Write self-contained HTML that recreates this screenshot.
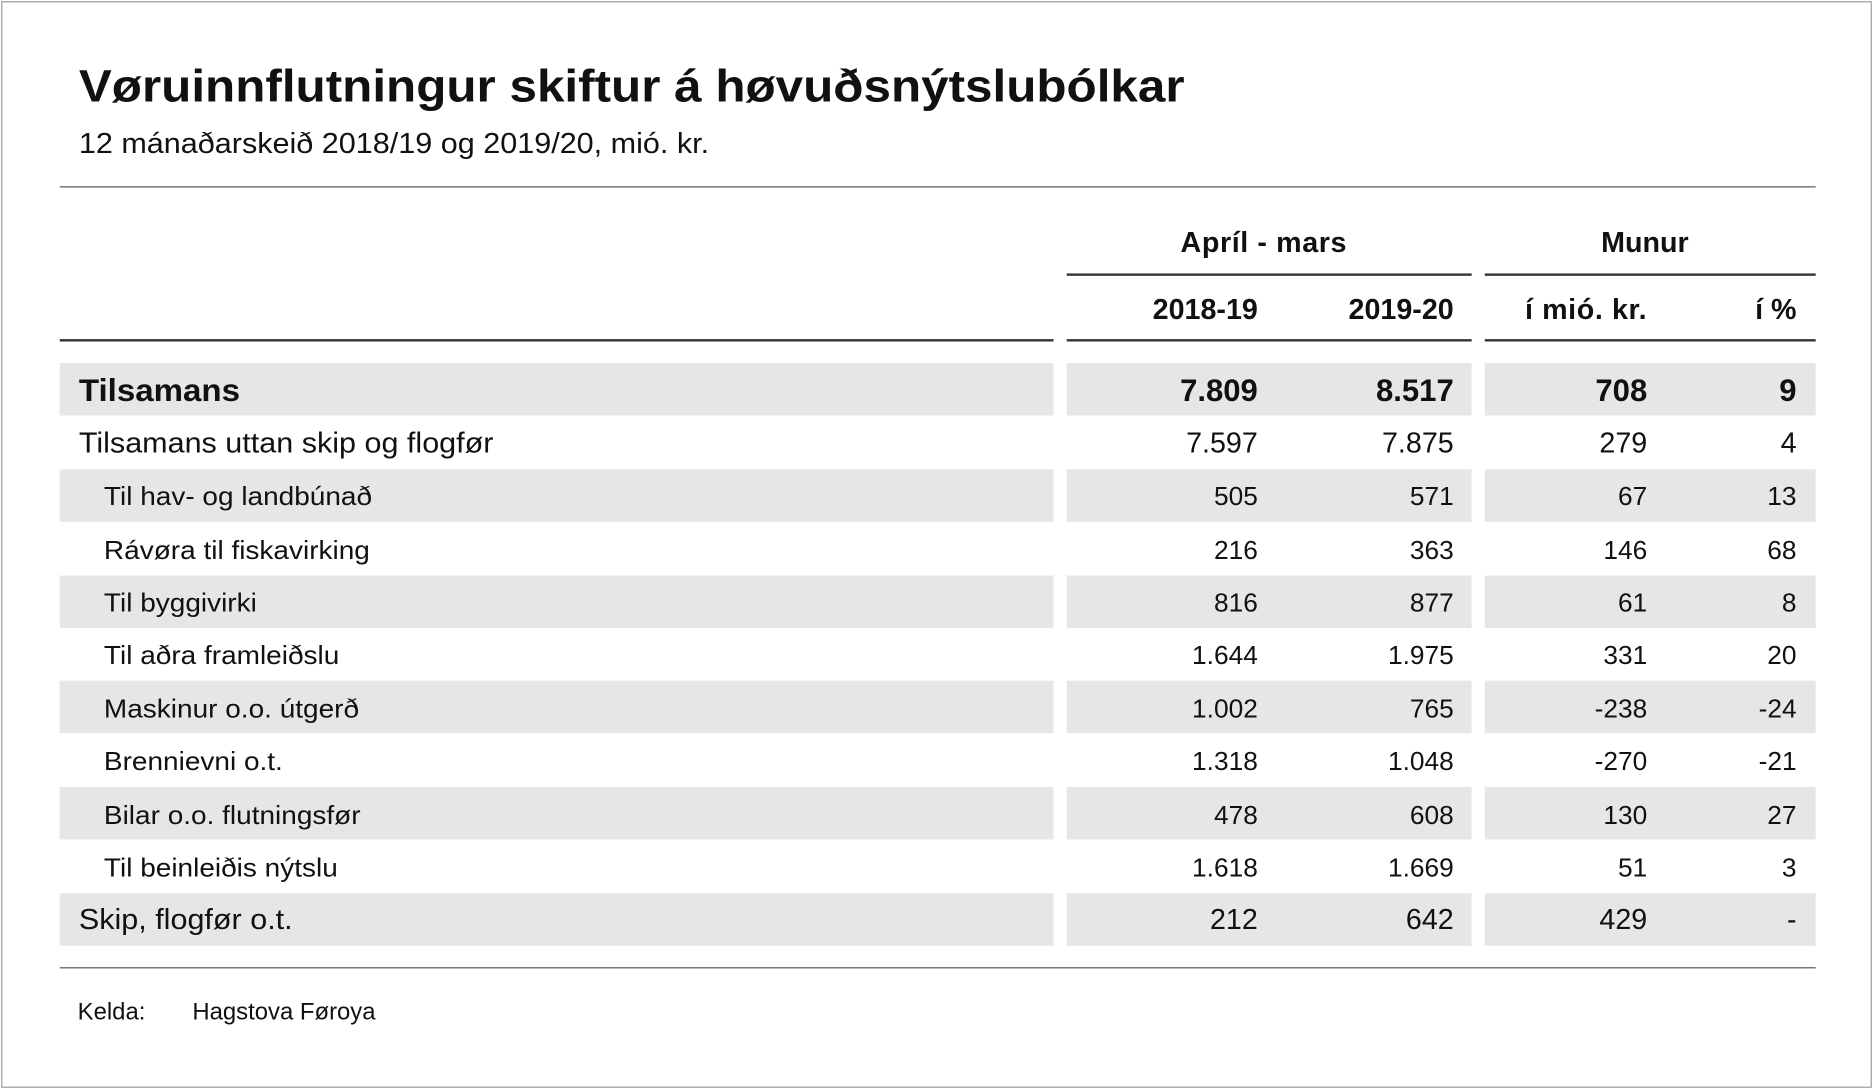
<!DOCTYPE html>
<html><head><meta charset="utf-8">
<style>
html,body{margin:0;padding:0;background:#fff;}
body{width:1873px;height:1089px;overflow:hidden;position:relative;}
#w{position:absolute;left:0;top:0;width:1568px;height:912px;transform:scale(1.19452,1.19408);transform-origin:0 0;font-family:"Liberation Sans",sans-serif;color:#111;}
.box{position:absolute;left:1px;top:1px;width:1564px;height:908px;border:1px solid #999;}
.a{position:absolute;white-space:nowrap;transform-origin:0 0;}
.r{position:absolute;white-space:nowrap;text-align:right;}
.ln{position:absolute;background:#333;}
.bg{position:absolute;background:#e6e6e6;}
</style></head><body><div id="w">
<div class="box"></div>
<div class="a" style="left:66px;top:52px;font-size:38px;font-weight:bold;transform:scaleX(1.088);">Vøruinnflutningur skiftur á høvuðsnýtslubólkar</div>
<div class="a" style="left:66px;top:107px;font-size:24px;transform:scaleX(1.066);">12 mánaðarskeið 2018/19 og 2019/20, mió. kr.</div>
<div class="ln" style="left:50px;top:156px;width:1470px;height:1px;background:#555"></div>
<div class="a" style="left:888px;width:340px;text-align:center;top:190px;font-size:24px;font-weight:bold;letter-spacing:0.5px;">Apríl - mars</div>
<div class="a" style="left:1243px;width:268px;text-align:center;top:190px;font-size:24px;font-weight:bold;">Munur</div>
<div class="ln" style="left:893px;top:229px;width:339px;height:2px"></div>
<div class="ln" style="left:1243px;top:229px;width:277px;height:2px"></div>
<div class="r" style="right:515px;top:246px;font-size:24px;font-weight:bold;">2018-19</div>
<div class="r" style="right:351px;top:246px;font-size:24px;font-weight:bold;">2019-20</div>
<div class="r" style="right:189px;top:246px;font-size:24px;font-weight:bold;letter-spacing:0.5px;">í mió. kr.</div>
<div class="r" style="right:64px;top:246px;font-size:24px;font-weight:bold;">í %</div>
<div class="ln" style="left:50px;top:284px;width:832px;height:2px"></div>
<div class="ln" style="left:893px;top:284px;width:339px;height:2px"></div>
<div class="ln" style="left:1243px;top:284px;width:277px;height:2px"></div>
<div id="rows"></div>
<div class="ln" style="left:50px;top:810px;width:1470px;height:1px;background:#555"></div>
<div class="a" style="left:65px;top:837px;font-size:20px;">Kelda:</div>
<div class="a" style="left:161px;top:837px;font-size:20px;">Hagstova Føroya</div>
</div>
<script>
var d=[["Tilsamans","7.809","8.517","708","9",26,1,66],
["Tilsamans uttan skip og flogfør","7.597","7.875","279","4",24,0,66],
["Til hav- og landbúnað","505","571","67","13",22,0,87],
["Rávøra til fiskavirking","216","363","146","68",22,0,87],
["Til byggivirki","816","877","61","8",22,0,87],
["Til aðra framleiðslu","1.644","1.975","331","20",22,0,87],
["Maskinur o.o. útgerð","1.002","765","-238","-24",22,0,87],
["Brennievni o.t.","1.318","1.048","-270","-21",22,0,87],
["Bilar o.o. flutningsfør","478","608","130","27",22,0,87],
["Til beinleiðis nýtslu","1.618","1.669","51","3",22,0,87],
["Skip, flogfør o.t.","212","642","429","-",24,0,66]];
var h="",rr=[515,351,189,64];
d.forEach(function(r,i){var y=304+i*44.4;
if(i%2==0){h+='<div class="bg" style="left:50px;top:'+y+'px;width:832px;height:44px"></div><div class="bg" style="left:893px;top:'+y+'px;width:339px;height:44px"></div><div class="bg" style="left:1243px;top:'+y+'px;width:277px;height:44px"></div>';}
var fw=r[6]?'font-weight:bold;':'';var ty=y+23.5-r[5]*0.6;
h+='<div class="a" style="left:'+r[7]+'px;top:'+ty+'px;font-size:'+r[5]+'px;'+fw+'transform:scaleX(1.065);">'+r[0]+'</div>';
for(var k=0;k<4;k++)h+='<div class="r" style="right:'+rr[k]+'px;top:'+ty+'px;font-size:'+r[5]+'px;'+fw+'">'+r[k+1]+'</div>';});
document.getElementById("rows").outerHTML=h;
</script>
</body></html>
